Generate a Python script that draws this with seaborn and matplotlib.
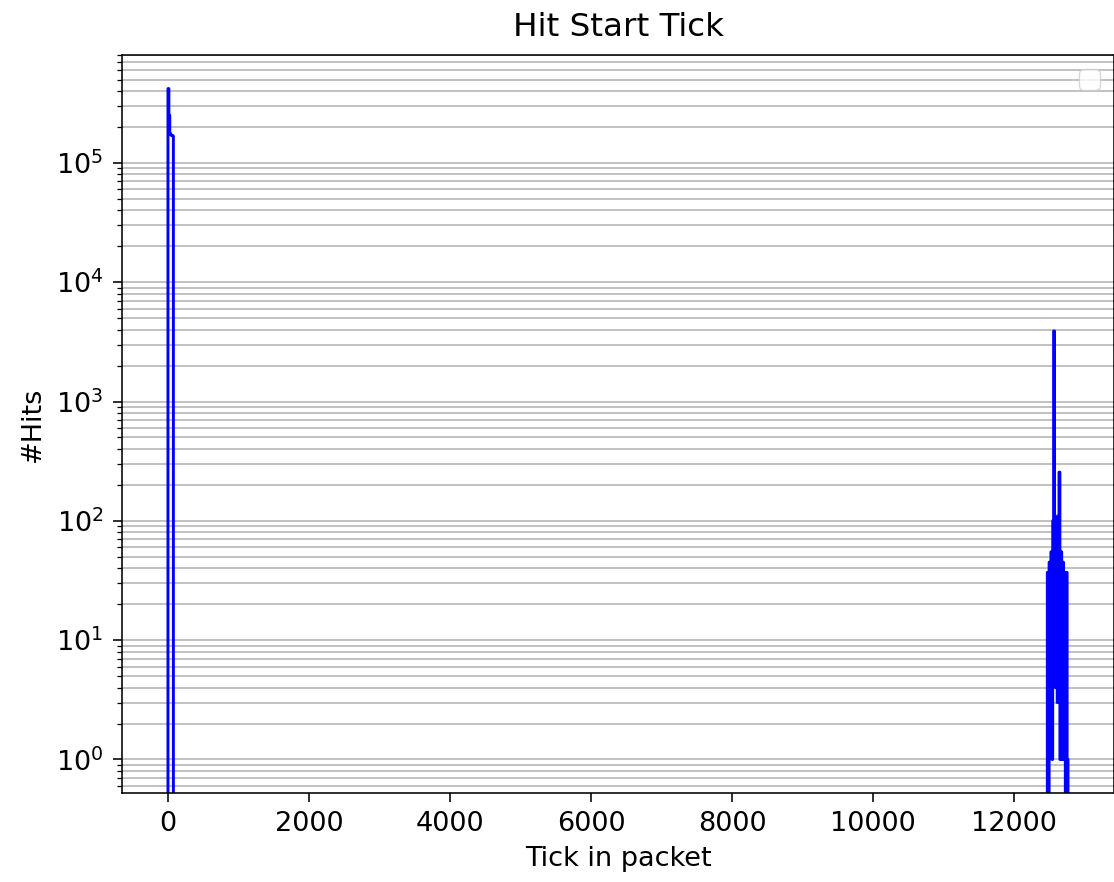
import numpy as np
import pandas as pd
import matplotlib
matplotlib.use("Agg")
import matplotlib.pyplot as plt
import seaborn as sns

# ---- data ----
bin_width = 12.76
# counts for the bins near tick 0 (bin index -1..6): empty, data, empty
left_counts = [0, 420000, 250000, 176000, 172000, 170000, 168000, 0]
left_start_bin = -1
# counts for the cluster near tick 12500 (bin index 977..1000), last one empty
right_counts = [37, 0, 45, 2, 55, 1, 100, 3900, 110, 4, 100, 3, 110, 256,
                1, 55, 1, 45, 1, 37, 0, 37, 1, 0]
right_start_bin = 977

title = "Hit Start Tick"
xlabel = "Tick in packet"
ylabel = "#Hits"

# ---- build histogram table ----
n_first = left_start_bin
n_last = right_start_bin + len(right_counts)
bin_index = np.arange(n_first, n_last)
counts = np.zeros(len(bin_index))
for i, c in enumerate(left_counts):
    counts[left_start_bin + i - n_first] = c
for i, c in enumerate(right_counts):
    counts[right_start_bin + i - n_first] = c
edges = np.append(bin_index, n_last) * bin_width
centers = (edges[:-1] + edges[1:]) / 2
df = pd.DataFrame({"tick": centers, "hits": counts})

plt.rcParams["font.family"] = ["DejaVu Sans"]
fig = plt.figure(figsize=(11.14, 8.82), dpi=100)
ax = fig.add_axes([0.1095, 0.1009, 0.8905, 0.8367])

sns.histplot(data=df, x="tick", weights="hits", bins=list(edges), element="step",
             fill=False, color="blue", linewidth=2.1, ax=ax)
ax.set_yscale("log")
for ln in ax.lines:
    ln.sticky_edges.x.clear()
    ln.sticky_edges.y.clear()
ax.relim()
ax.autoscale_view()

ax.grid(True, which="both", axis="y", color="#b0b0b0", linewidth=1.1)
ax.set_axisbelow(True)
for s in ax.spines.values():
    s.set_linewidth(1.15)
ax.set_title(title, fontsize=23.4, pad=14)
ax.set_xlabel(xlabel, fontsize=19.5, labelpad=6)
ax.set_ylabel(ylabel, fontsize=19.5, labelpad=7)
ax.tick_params(axis="both", which="major", labelsize=19.5, length=6.8, width=1.15, pad=6.5)
ax.tick_params(axis="y", which="minor", length=3.9, width=0.9)
ax.legend(handles=[], loc="upper right", prop={"size": 19.5})

fig.savefig("out.png", dpi=100)
